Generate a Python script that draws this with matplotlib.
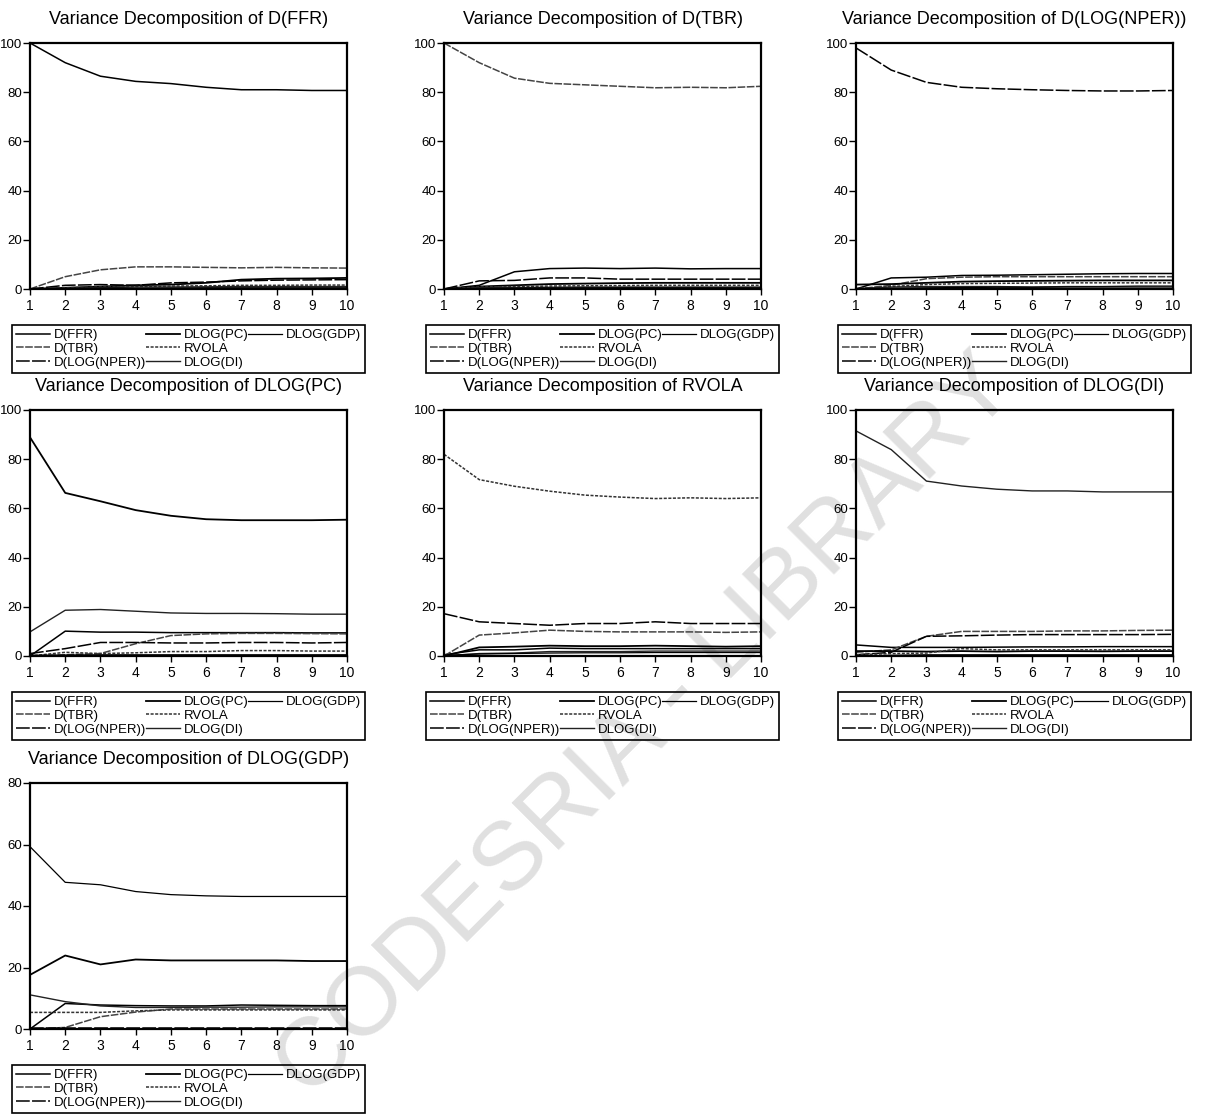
"""Variance decomposition panels (EViews style), redrawn with matplotlib."""
import matplotlib
matplotlib.use("Agg")
import matplotlib.pyplot as plt
from matplotlib.lines import Line2D

plt.rcParams.update({
    "font.family": "Liberation Sans",
    "axes.linewidth": 1.6,
    "axes.edgecolor": "black",
    "xtick.color": "black",
    "ytick.color": "black",
})

HORIZON = [1, 2, 3, 4, 5, 6, 7, 8, 9, 10]
SERIES = ["D(FFR)", "D(TBR)", "D(LOG(NPER))", "DLOG(PC)", "RVOLA", "DLOG(DI)", "DLOG(GDP)"]

# valores (percentual da variancia), horizonte 1..10
VD_FFR = {
    "D(FFR)":       [100, 92, 86.5, 84.4, 83.5, 82, 81, 81, 80.7, 80.7],
    "D(TBR)":       [0, 5, 7.8, 9, 9, 8.8, 8.6, 8.8, 8.6, 8.5],
    "D(LOG(NPER))": [0, 1.5, 1.8, 1.5, 2.5, 2.8, 3.3, 3.6, 3.7, 3.8],
    "DLOG(PC)":     [0, 0.5, 1, 1.5, 1.8, 2.5, 3.8, 4.2, 4.3, 4.5],
    "RVOLA":        [0, 0.5, 0.8, 1, 1.2, 1.3, 1.5, 1.5, 1.6, 1.6],
    "DLOG(DI)":     [0, 0.3, 0.5, 0.8, 0.8, 0.9, 1, 1, 1, 1],
    "DLOG(GDP)":    [0, 0.2, 0.3, 0.3, 0.4, 0.5, 0.5, 0.5, 0.5, 0.5],
}
VD_TBR = {
    "D(FFR)":       [0, 1.5, 7, 8.3, 8.5, 8.3, 8.5, 8.2, 8.3, 8.3],
    "D(TBR)":       [100, 92, 85.7, 83.6, 83, 82.4, 81.8, 82, 81.8, 82.4],
    "D(LOG(NPER))": [0, 3.3, 3.5, 4.5, 4.5, 4, 4, 4, 4, 4],
    "DLOG(PC)":     [0, 1, 1.5, 2, 2.2, 2.4, 2.5, 2.5, 2.5, 2.5],
    "RVOLA":        [0, 0.8, 1, 1.2, 1.3, 1.4, 1.5, 1.5, 1.5, 1.5],
    "DLOG(DI)":     [0, 0.5, 0.6, 0.7, 0.8, 0.8, 0.8, 0.8, 0.8, 0.8],
    "DLOG(GDP)":    [0, 0.2, 0.3, 0.4, 0.5, 0.5, 0.5, 0.5, 0.5, 0.5],
}
VD_NPER = {
    "D(FFR)":       [0, 4.5, 4.8, 5.5, 5.6, 5.8, 6, 6.2, 6.3, 6.3],
    "D(TBR)":       [0, 1.5, 4.2, 4.8, 5, 5, 5, 5, 5, 5],
    "D(LOG(NPER))": [98, 89, 84, 82, 81.4, 81, 80.7, 80.5, 80.5, 80.7],
    "DLOG(PC)":     [1.8, 2, 2.5, 3, 3.2, 3.3, 3.4, 3.5, 3.5, 3.5],
    "RVOLA":        [0, 1, 1.8, 2.2, 2.3, 2.4, 2.5, 2.5, 2.5, 2.5],
    "DLOG(DI)":     [0.2, 0.8, 1, 1, 1, 0.8, 1, 1, 1.2, 1.2],
    "DLOG(GDP)":    [0, 0.3, 0.5, 0.6, 0.7, 0.7, 0.8, 0.8, 0.8, 0.8],
}
VD_PC = {
    "D(FFR)":       [0, 10.1, 9.7, 9.7, 9.5, 9.5, 9.5, 9.5, 9.4, 9.4],
    "D(TBR)":       [0, 0.5, 1, 5, 8.3, 9, 9.2, 9.2, 9.1, 9],
    "D(LOG(NPER))": [1, 3, 5.5, 5.5, 5.3, 5.3, 5.5, 5.5, 5.3, 5.5],
    "DLOG(PC)":     [88.9, 66.3, 62.9, 59.3, 57, 55.6, 55.2, 55.2, 55.2, 55.4],
    "RVOLA":        [0, 1.5, 1, 1.3, 1.8, 1.8, 2.2, 2.2, 2, 2],
    "DLOG(DI)":     [9.8, 18.6, 18.9, 18.2, 17.5, 17.3, 17.3, 17.2, 17, 17],
    "DLOG(GDP)":    [0.3, 0.4, 0.5, 0.5, 0.5, 0.5, 0.5, 0.5, 0.5, 0.5],
}
VD_RVOLA = {
    "D(FFR)":       [0.5, 2.5, 2.5, 3.2, 3, 3, 3, 3, 3, 3],
    "D(TBR)":       [0, 8.5, 9.4, 10.5, 10, 9.8, 9.8, 9.8, 9.6, 9.8],
    "D(LOG(NPER))": [17.2, 13.9, 13.2, 12.5, 13.2, 13.2, 13.9, 13.2, 13.2, 13.2],
    "DLOG(PC)":     [0, 3.5, 3.8, 4.2, 4, 4, 4.2, 4, 3.8, 4],
    "RVOLA":        [82, 71.7, 69, 67, 65.4, 64.6, 64, 64.3, 64, 64.3],
    "DLOG(DI)":     [0, 1, 1.2, 1.8, 1.8, 1.8, 2, 2, 2, 2],
    "DLOG(GDP)":    [0.3, 0.8, 1, 1.2, 1.3, 1.3, 1.4, 1.4, 1.4, 1.4],
}
VD_DI = {
    "D(FFR)":       [4.5, 3.5, 3.5, 3.5, 3.6, 3.7, 3.7, 3.8, 3.8, 3.8],
    "D(TBR)":       [1.5, 2.5, 8, 10, 10, 10, 10.2, 10.2, 10.4, 10.5],
    "D(LOG(NPER))": [0.5, 1.5, 8, 8.2, 8.5, 8.7, 8.7, 8.7, 8.7, 8.8],
    "DLOG(PC)":     [2, 2, 1.8, 2, 1.8, 2, 2, 1.9, 2, 2],
    "RVOLA":        [0.5, 1, 1.2, 3, 2.5, 2.5, 2.5, 2.5, 2.5, 2.5],
    "DLOG(DI)":     [91.5, 83.9, 71.1, 69.1, 67.8, 67.1, 67.1, 66.7, 66.7, 66.7],
    "DLOG(GDP)":    [0, 0.3, 0.5, 0.5, 0.5, 0.5, 0.5, 0.5, 0.5, 0.5],
}
VD_GDP = {
    "D(FFR)":       [0, 8.3, 7.8, 7.6, 7.5, 7.5, 7.8, 7.7, 7.6, 7.6],
    "D(TBR)":       [0, 0.5, 4, 5.5, 6.5, 6.5, 6.5, 6.5, 6.5, 6.5],
    "D(LOG(NPER))": [0.3, 0.3, 0.3, 0.3, 0.3, 0.3, 0.3, 0.3, 0.3, 0.3],
    "DLOG(PC)":     [17.6, 23.9, 21, 22.6, 22.3, 22.3, 22.3, 22.3, 22.1, 22.1],
    "RVOLA":        [5.4, 5.4, 5.4, 5.9, 6.2, 6.2, 6.2, 6.2, 6.2, 6.2],
    "DLOG(DI)":     [11.1, 8.9, 7.5, 7, 7, 7.1, 7.1, 7.2, 7.2, 7.2],
    "DLOG(GDP)":    [59.3, 47.7, 46.9, 44.7, 43.7, 43.3, 43.1, 43.1, 43.1, 43.1],
}

PANELS = [
    ("Variance Decomposition of D(FFR)", VD_FFR, 100),
    ("Variance Decomposition of D(TBR)", VD_TBR, 100),
    ("Variance Decomposition of D(LOG(NPER))", VD_NPER, 100),
    ("Variance Decomposition of DLOG(PC)", VD_PC, 100),
    ("Variance Decomposition of RVOLA", VD_RVOLA, 100),
    ("Variance Decomposition of DLOG(DI)", VD_DI, 100),
    ("Variance Decomposition of DLOG(GDP)", VD_GDP, 80),
]

# estilo de cada serie (copia escaneada, tudo em preto/cinza)
STYLE = {
    "D(FFR)":       dict(color="black", linestyle="-", linewidth=1.1),
    "D(TBR)":       dict(color="#444444", linestyle=(0, (5, 1)), linewidth=1.1),
    "D(LOG(NPER))": dict(color="black", linestyle=(0, (9, 1.5)), linewidth=1.1),
    "DLOG(PC)":     dict(color="black", linestyle="-", linewidth=1.3),
    "RVOLA":        dict(color="#333333", linestyle=(0, (2, 1)), linewidth=1.1),
    "DLOG(DI)":     dict(color="#222222", linestyle="-", linewidth=1.0),
    "DLOG(GDP)":    dict(color="black", linestyle="-", linewidth=0.9),
}

W, H = 1209, 1119
# caixas dos eixos em pixels: (esquerda, topo, largura, altura)
COL_LEFT = [30, 444, 856]
ROW_TOP = [43, 410, 783]
BOX_W, BOX_H = 317, 246

fig = plt.figure(figsize=(W / 100, H / 100), dpi=100)

# marca d'agua atras dos graficos
fig.text(0.535, 0.350, "CODESRIA - LIBRARY", rotation=45, rotation_mode="anchor",
         ha="center", va="center", fontsize=70, color="#e0e0e0", zorder=-1)

for i, (title, data, ymax) in enumerate(PANELS):
    row, col = divmod(i, 3)
    left, top = COL_LEFT[col], ROW_TOP[row]
    ax = fig.add_axes([left / W, 1 - (top + BOX_H) / H, BOX_W / W, BOX_H / H])
    ax.set_facecolor("none")

    for name in SERIES:
        ax.plot(HORIZON, data[name], label=name, **STYLE[name])

    ax.set_xlim(1, 10)
    ax.set_ylim(0, ymax)
    ax.set_xticks(HORIZON)
    ax.set_yticks(range(0, ymax + 1, 20))
    ax.tick_params(axis="y", direction="out", length=5, width=1, pad=0.5, labelsize=9.5)
    ax.tick_params(axis="x", direction="out", length=4, width=1, pad=3, labelsize=10)
    ax.set_title(title, fontsize=13, pad=14)

    handles = ax.get_lines() + [Line2D([], [], linestyle="none")] * 2
    labels = SERIES + ["", ""]
    leg = ax.legend(handles, labels, ncols=3, loc="upper left",
                    bbox_to_anchor=(-18 / BOX_W, -36 / BOX_H), borderaxespad=0,
                    fontsize=9.5, handlelength=2.6, handletextpad=0.25,
                    columnspacing=0.0, borderpad=0.3, labelspacing=0.12,
                    frameon=True, fancybox=False, edgecolor="black",
                    facecolor="none", framealpha=1)
    leg.get_frame().set_linewidth(1.2)

fig.savefig("out.png", dpi=100)
